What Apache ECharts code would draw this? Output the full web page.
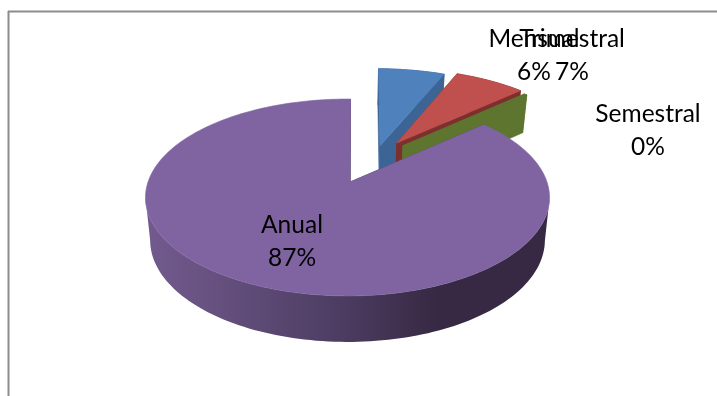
<!DOCTYPE html>
<html><head><meta charset="utf-8">
<style>html,body{margin:0;padding:0;background:#fff}#c{width:717px;height:396px}</style>
<script src="https://cdn.jsdelivr.net/npm/echarts@6/dist/echarts.min.js"></script>
</head><body><div id="c"></div>
<script>
const categories = ['Mensual', 'Trimestral', 'Semestral', 'Anual'];
const seriesValues = [6.2, 6.8, 0.3, 86.7];
const percentLabels = ['6%', '7%', '0%', '87%'];

// 3D view: unit disc (u,v) projected in perspective, v>0 towards the viewer
const view = {cx: 347.5, cy: 182, rx: 199.5, ry: 96, k: 0.1574, firstAngle: 1, bottomScale: 0.977};
const explode = [[0.173, -0.40], [0.264, -0.434], [0.295, -0.40], [0, 0]];
const apexShift = [[0, 0], [0, 0], [0, 0], [0.0125, 0]];
const radius = [1.05, 1.02, 1, 1];
const topColors = ['#4F81BD', '#C0504D', '#5E7530', '#8064A2'];
const wallColors = ['#3C6494', '#7D2F2D', '#5E7530', '#4a3a5e'];
const labelPos = [[534, 39, 534, 72], [572, 39, 572, 72], [648, 114, 648, 147], [292, 225, 292, 258]];
const FONT = 'Lato, "Open Sans", sans-serif', FSIZE = 24.5;

function project(u, v, low) {
  const w = 1 - view.k * v;
  const s = low ? view.bottomScale : 1;
  return [view.cx + s * view.rx * u / w,
          view.cy + view.ry * v / w + (low ? 42 + 4 * v : 0)];
}
const total = seriesValues.reduce((a, b) => a + b, 0);
function angles(i) {
  let a = view.firstAngle;
  for (let j = 0; j < i; j++) a += seriesValues[j] / total * 360;
  return [a, a + seriesValues[i] / total * 360];
}
function rim(i, low, frontOnly) {
  const [a0, a1] = angles(i), n = Math.max(2, Math.ceil((a1 - a0) / 1.5)), pts = [];
  for (let t = 0; t <= n; t++) {
    const th = (a0 + (a1 - a0) * t / n) * Math.PI / 180;
    if (frontOnly && -Math.cos(th) < view.k) continue;
    pts.push(project(radius[i] * Math.sin(th) + explode[i][0], -radius[i] * Math.cos(th) + explode[i][1], low));
  }
  return pts;
}
function apex(i, low) {
  return project(explode[i][0] + apexShift[i][0], explode[i][1] + apexShift[i][1], low);
}
const purpleGrad = {type: 'linear', global: true, x: 145, y: 0, x2: 550, y2: 0, colorStops: [
  {offset: 0, color: '#725a8e'}, {offset: 0.12, color: '#6a5484'}, {offset: 0.5, color: '#4b3b60'},
  {offset: 0.72, color: '#372943'}, {offset: 1, color: '#372943'}]};

function renderSlice(params, api) {
  const i = api.value(0);
  const top = rim(i, false, false), at = apex(i, false), al = apex(i, true);
  const low = rim(i, true, false);
  const wall = wallColors[i];
  const poly = (points, fill, noStroke) => ({type: 'polygon', shape: {points},
    style: noStroke ? {fill} : {fill, stroke: fill, lineWidth: 0.6}});
  const children = [];
  // cut faces
  children.push(poly([at, top[0], low[0], al], wall));
  children.push(poly([at, top[top.length - 1], low[low.length - 1], al], wall));
  // outer wall
  if (i === 3) {
    const ft = rim(i, false, true), fl = rim(i, true, true);
    children.push(poly(ft.concat(fl.slice().reverse()), purpleGrad, true));
  } else {
    for (let t = 0; t < top.length - 1; t++) {
      children.push(poly([top[t], top[t + 1], low[t + 1], low[t]], wall));
    }
  }
  // top face
  children.push(poly([at].concat(top), topColors[i]));
  return {type: 'group', children};
}
function renderLabel(params, api) {
  const i = api.value(0), p = labelPos[i];
  const txt = (s, x, y) => ({type: 'text', style: {text: s, x, y, fill: '#000', font: FSIZE + 'px ' + FONT, textAlign: 'center', textVerticalAlign: 'middle'}});
  return {type: 'group', children: [txt(categories[i], p[0], p[1]), txt(percentLabels[i], p[2], p[3])]};
}
const idx = categories.map((c, i) => [i, seriesValues[i]]);
const chart = echarts.init(document.getElementById('c'), null, {renderer: 'canvas'});
chart.setOption({
  animation: false,
  backgroundColor: '#fff',
  graphic: [
    {type: 'line', shape: {x1: 8, y1: 11.5, x2: 717, y2: 11.5}, style: {stroke: '#8c8c8c', lineWidth: 2}, silent: true},
    {type: 'line', shape: {x1: 8.5, y1: 11, x2: 8.5, y2: 396}, style: {stroke: '#8c8c8c', lineWidth: 2}, silent: true}
  ],
  series: [
    {type: 'custom', coordinateSystem: 'none', data: idx, renderItem: renderSlice, silent: true, z: 2},
    {type: 'custom', coordinateSystem: 'none', data: idx, renderItem: renderLabel, silent: true, z: 3}
  ]
});
</script></body></html>
